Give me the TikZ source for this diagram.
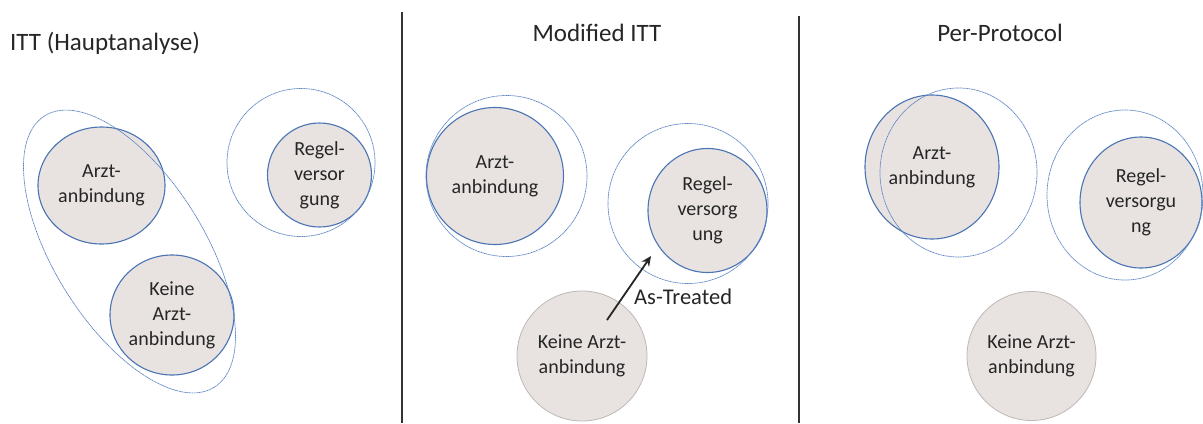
\documentclass[tikz,border=0pt]{standalone}
\usepackage{fontspec}
\setmainfont{Carlito}
\usetikzlibrary{arrows.meta,shapes.geometric}
\definecolor{groupfill}{HTML}{E8E3E1}
\definecolor{groupedge}{HTML}{4A74B4}
\definecolor{setedge}{HTML}{5B84C4}
\definecolor{plainedge}{HTML}{BDB8B6}
\definecolor{textgray}{HTML}{262626}
\definecolor{rulegray}{HTML}{333333}
\tikzset{
  groupnode/.style={ellipse, fill=groupfill, draw=groupedge, line width=1.1bp,
    inner sep=0pt, text=textgray, align=center,
    font=\fontsize{20bp}{25bp}\selectfont},
  plaingroup/.style={groupnode, draw=plainedge, line width=0.8bp},
  setline/.style={draw=setedge, line width=0.7bp, dash pattern=on 1.2bp off 0.5bp},
  headtext/.style={text=textgray, font=\fontsize{25bp}{30bp}\selectfont, inner sep=0pt},
  divider/.style={draw=rulegray, line width=2.2bp},
  arrowtext/.style={text=textgray, font=\fontsize{22.5bp}{27bp}\selectfont, inner sep=0pt},
  movearrow/.style={-{Stealth[length=10bp,width=9bp]}, line width=1.8bp, draw=black!85}
}
\begin{document}
\begin{tikzpicture}[x=1bp,y=-1bp]
\useasboundingbox (0,0) rectangle (1203,423);
\fill[white] (0,0) rectangle (1203,423);

% column dividers
\coordinate (d1top) at (402,12);
\coordinate (d1bot) at (402,423);
\coordinate (d2top) at (799,16);
\coordinate (d2bot) at (799,423);
\draw[divider] (d1top) -- (d1bot);
\draw[divider] (d2top) -- (d2bot);

% headings
\node[headtext, anchor=base west] (t1) at (10,50) {ITT (Hauptanalyse)};
\node[headtext, anchor=base] (t2) at (597,41) {Modified ITT};
\node[headtext, anchor=base] (t3) at (1000,41) {Per-Protocol};

% ---- ITT ----
\node[groupnode, minimum width=127bp, minimum height=117bp] (a1) at (101.5,185.5) {Arzt-\\anbindung};
\node[groupnode, minimum width=124bp, minimum height=120bp] (k1) at (172,315) {Keine\\Arzt-\\anbindung};
\node[groupnode, minimum width=104bp, minimum height=104bp] (r1) at (319.5,175) {Regel-\\versor\\gung};
\draw[setline] (129.5,251.5) ellipse [x radius=160, y radius=75, rotate=-58];
\draw[setline] (301,162.5) circle [radius=74];

% ---- Modified ITT ----
\node[groupnode, minimum width=137bp, minimum height=137bp] (a2) at (495,176) {Arzt-\\anbindung};
\draw[setline] (506.5,176) circle [radius=80.5];
\node[groupnode, minimum width=119bp, minimum height=124bp] (r2) at (707.5,210.5) {Regel-\\versorg\\ung};
\draw[setline] (688,203.5) circle [radius=80];
\node[plaingroup, minimum width=130bp, minimum height=130bp] (k2) at (582,356) {Keine Arzt-\\anbindung};
\coordinate (shiftfrom) at (607,320);
\coordinate (shiftto) at (651,256);
\draw[movearrow] (shiftfrom) -- (shiftto);
\node[arrowtext, anchor=west] (at) at (634,297) {As-Treated};

% ---- Per-Protocol ----
\node[groupnode, minimum width=134bp, minimum height=144bp] (a3) at (932,167) {Arzt-\\anbindung};
\draw[setline] (958.5,172.5) ellipse [x radius=78.5, y radius=84.5];
\node[groupnode, minimum width=122bp, minimum height=131bp] (r3) at (1141,202.5) {Regel-\\versorgu\\ng};
\draw[setline] (1125,195) ellipse [x radius=78, y radius=85];
\node[plaingroup, minimum width=129bp, minimum height=129bp] (k3) at (1031.5,356) {Keine Arzt-\\anbindung};
\end{tikzpicture}
\end{document}
